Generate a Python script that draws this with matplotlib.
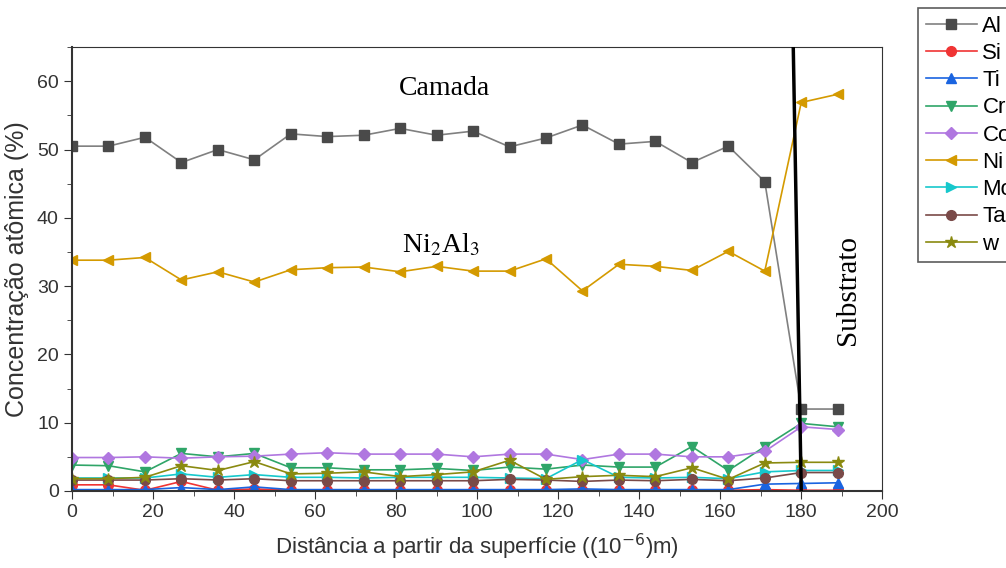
import matplotlib.pyplot as plt
from matplotlib.ticker import MultipleLocator

# distância a partir da superfície (µm)
dist = [0, 9, 18, 27, 36, 45, 54, 63, 72, 81, 90, 99, 108, 117, 126, 135,
        144, 153, 162, 171, 180, 189]

al = [50.5, 50.5, 51.8, 48.1, 50.0, 48.5, 52.3, 51.9, 52.1, 53.1, 52.1,
      52.7, 50.4, 51.7, 53.6, 50.8, 51.2, 48.1, 50.5, 45.3, 12.0, 12.0]
si = [0.9, 0.9, 0.1, 1.4, 0.1, 0.3, 0.1, 0.1, 0.1, 0.1, 0.1, 0.1, 0.1,
      0.1, 0.1, 0.1, 0.1, 0.1, 0.1, 0.2, 0.1, 0.1]
ti = [0.2, 0.2, 0.2, 0.5, 0.2, 0.6, 0.2, 0.2, 0.2, 0.2, 0.2, 0.2, 0.2,
      0.2, 0.3, 0.2, 0.2, 0.2, 0.2, 1.0, 1.1, 1.2]
cr = [3.8, 3.7, 2.8, 5.5, 5.0, 5.5, 3.4, 3.4, 3.1, 3.1, 3.3, 3.0, 3.5,
      3.2, 3.8, 3.5, 3.5, 6.5, 3.0, 6.5, 9.9, 9.4]
co = [4.9, 4.9, 5.0, 4.8, 5.0, 5.1, 5.4, 5.6, 5.4, 5.4, 5.4, 5.0, 5.4,
      5.4, 4.6, 5.4, 5.4, 5.0, 5.0, 5.8, 9.4, 9.0]
ni = [33.8, 33.8, 34.2, 30.9, 32.1, 30.6, 32.4, 32.7, 32.8, 32.1, 32.9,
      32.2, 32.2, 34.0, 29.3, 33.2, 32.9, 32.3, 35.1, 32.2, 56.9, 58.1]
mo = [1.9, 1.9, 1.9, 2.5, 2.0, 2.4, 2.0, 2.0, 1.9, 2.0, 2.0, 2.0, 1.9,
      1.8, 4.6, 2.0, 1.9, 2.0, 1.8, 2.8, 3.0, 3.0]
ta = [1.6, 1.6, 1.6, 1.8, 1.6, 1.8, 1.5, 1.5, 1.5, 1.5, 1.5, 1.5, 1.7,
      1.6, 1.4, 1.6, 1.5, 1.7, 1.5, 1.9, 2.7, 2.7]
w = [1.8, 1.8, 2.0, 3.7, 3.0, 4.3, 2.5, 2.6, 2.8, 2.1, 2.4, 2.8, 4.5,
     1.7, 2.1, 2.3, 2.1, 3.4, 1.7, 4.1, 4.2, 4.2]

# linha da interface camada / substrato
interface_x = [178, 180]
interface_y = [66, 0]

plt.rcParams['font.family'] = ['Liberation Sans', 'DejaVu Sans']

fig = plt.figure(figsize=(10.06, 5.68), dpi=100)
ax = fig.add_axes([0.0716, 0.1356, 0.8054, 0.7814])

series = [
    ('Al', al, 's', '#4a4a4a', '#808080'),
    ('Si', si, 'o', '#f03434', '#f03434'),
    ('Ti', ti, '^', '#1a64e0', '#1a64e0'),
    ('Cr', cr, 'v', '#2fa568', '#2fa568'),
    ('Co', co, 'D', '#b077e0', '#b077e0'),
    ('Ni', ni, '<', '#d49a00', '#d49a00'),
    ('Mo', mo, '>', '#16c8cc', '#16c8cc'),
    ('Ta', ta, 'o', '#7a4a48', '#7a4a48'),
    ('w', w, '*', '#8a8a10', '#8a8a10'),
]
for name, vals, mk, mcol, lcol in series:
    ms = 9 if mk == '*' else 7
    if mk == 'D':
        ms = 6.5
    ax.plot(dist, vals, color=lcol, lw=1.2, marker=mk, markersize=ms,
            markerfacecolor=mcol, markeredgecolor=mcol, label=name)

ax.plot(interface_x, interface_y, color='black', lw=2.5, zorder=5)

ax.text(92, 59, 'Camada', family='Liberation Serif', fontsize=20,
        ha='center', va='center')
ax.text(91, 36, r'Ni$_2$Al$_3$', family='Liberation Serif', fontsize=20,
        ha='center', va='center', math_fontfamily='stix')
ax.text(191.5, 29.5, 'Substrato', family='Liberation Serif', fontsize=21,
        rotation=90, ha='center', va='center')

ax.set_xlim(0, 200)
ax.set_ylim(0, 65)
ax.xaxis.set_major_locator(MultipleLocator(20))
ax.xaxis.set_minor_locator(MultipleLocator(10))
ax.yaxis.set_major_locator(MultipleLocator(10))
ax.yaxis.set_minor_locator(MultipleLocator(5))
ax.tick_params(which='both', direction='out', labelsize=14, colors='#333333')
ax.tick_params(which='major', length=6)
ax.tick_params(which='minor', length=3.5)
for s in ax.spines.values():
    s.set_color('#333333')
ax.spines['left'].set_linewidth(1.5)
ax.spines['bottom'].set_linewidth(1.5)

ax.set_xlabel('Distância a partir da superfície ((10$^{-6}$)m)', fontsize=16,
              color='#333333', labelpad=8)
ax.set_ylabel('Concentração atômica (%)', fontsize=18, color='#333333',
              labelpad=6)

leg = fig.legend(loc='upper left', bbox_to_anchor=(0.9125, 0.986),
                 borderaxespad=0, fontsize=16, frameon=True, fancybox=False,
                 edgecolor='#333333', handlelength=2.3, labelspacing=0.28,
                 borderpad=0.35, handletextpad=0.25)
leg.get_frame().set_linewidth(1.2)

fig.savefig('out.png', dpi=100)
